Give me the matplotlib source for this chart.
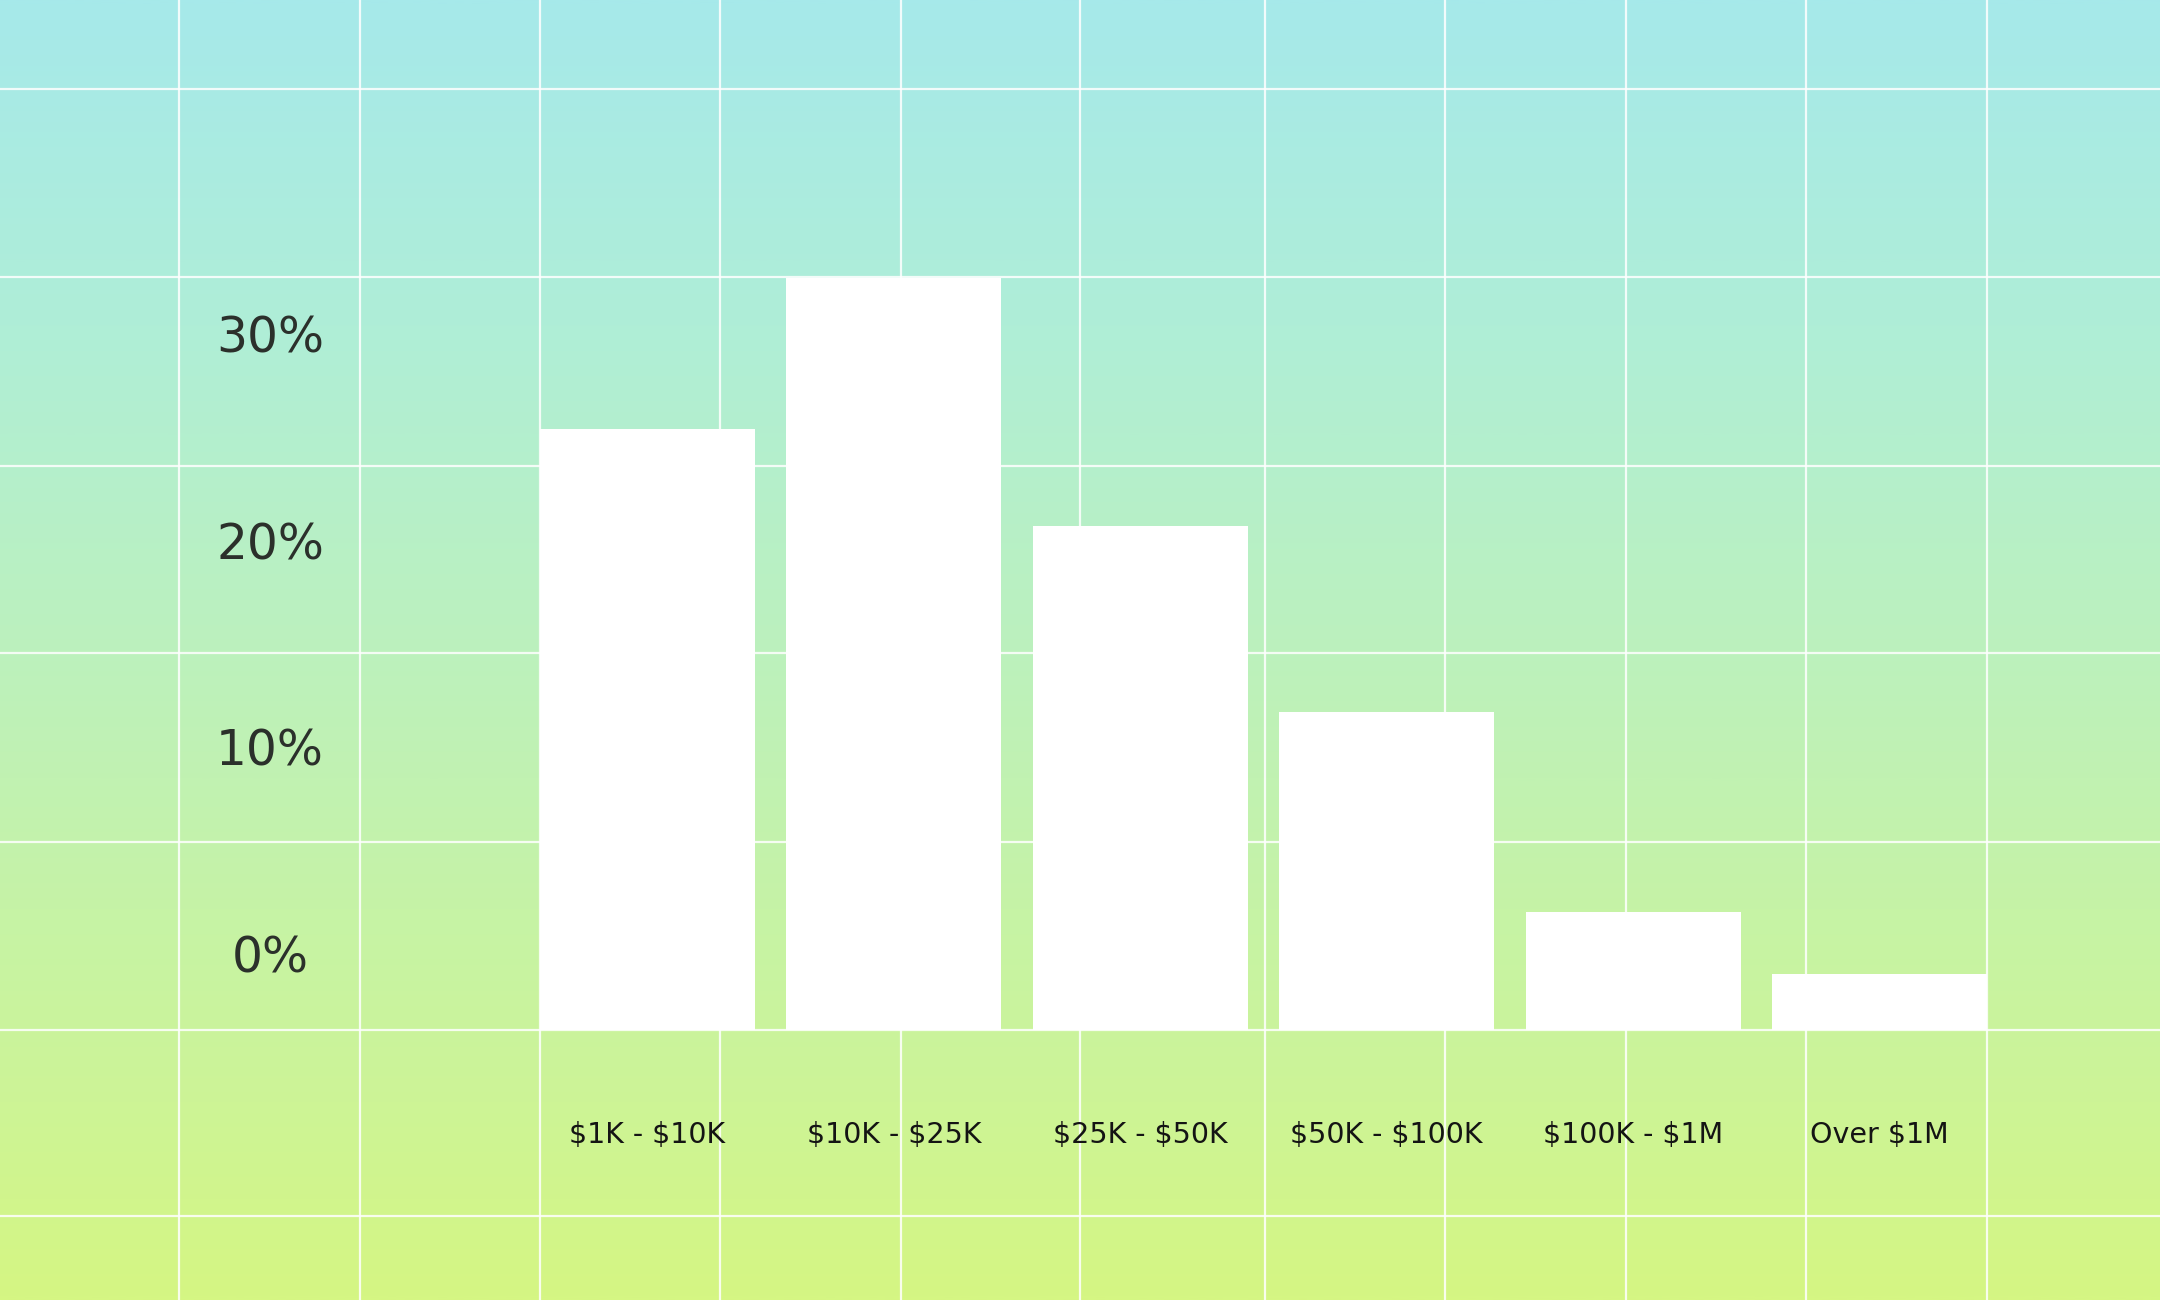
import matplotlib
matplotlib.use("Agg")
import matplotlib.pyplot as plt
from matplotlib.colors import LinearSegmentedColormap
import numpy as np

plt.rcParams["text.parse_math"] = False  # labels contain "$"

# data (share of deals, %)
categories = ["$1K - $10K", "$10K - $25K", "$25K - $50K",
              "$50K - $100K", "$100K - $1M", "Over $1M"]
shares = [29.1, 36.4, 24.4, 15.4, 5.7, 2.7]
ytick_labels = ["0%", "10%", "20%", "30%"]

# layout, in pixels of the 2160x1300 canvas
W, H = 2160, 1300
grid_x = [179, 360, 540, 720, 901, 1080, 1265, 1445, 1626, 1806, 1987]
grid_y = [89, 277, 466, 653, 842, 1030, 1216]
px_per_pct = 20.66
label_offset = 3.7  # y labels sit a bit above their gridline

fig = plt.figure(figsize=(W / 100, H / 100), dpi=100)

# background: vertical gradient + white grid
bg = fig.add_axes([0, 0, 1, 1])
cmap = LinearSegmentedColormap.from_list("bg", [
    (0.0, "#a6e9ea"), (0.25, "#afeed7"), (0.5, "#bcf1bd"),
    (0.7, "#c6f3a6"), (0.85, "#cdf496"), (1.0, "#d5f683")])
grad = np.linspace(0, 1, 512).reshape(-1, 1)
bg.imshow(grad, cmap=cmap, aspect="auto", extent=[0, 1, 0, 1], origin="upper")
for gx in grid_x:
    bg.axvline(gx / W, color="white", lw=1.6, alpha=0.85)
for gy in grid_y:
    bg.axhline(1 - gy / H, color="white", lw=1.6, alpha=0.85)
bg.set_xlim(0, 1)
bg.set_ylim(0, 1)
bg.axis("off")

# the bar chart itself
left, right, base = 540, 1987, 1030
ax = fig.add_axes([left / W, 1 - base / H, (right - left) / W, base / H])
ax.patch.set_alpha(0)
x = np.arange(len(categories))
width = 0.872
ax.bar(x, shares, width=width, color="white", zorder=3)
ax.set_xlim(-width / 2, len(categories) - 1 + width / 2)
ax.set_ylim(0, base / px_per_pct)

ax.set_xticks(x, categories)
ax.set_yticks([label_offset + 10 * i for i in range(len(ytick_labels))], ytick_labels)
ax.tick_params(axis="x", length=0, pad=105 * 0.72, labelsize=20.5, labelcolor="#141414")
ax.tick_params(axis="y", length=0, pad=270 * 0.72, labelsize=35, labelcolor="#2b302b")
for lab in ax.get_xticklabels():
    lab.set_va("center")
for lab in ax.get_yticklabels():
    lab.set_ha("center")
for s in ax.spines.values():
    s.set_visible(False)

fig.savefig("out.png", dpi=100)
